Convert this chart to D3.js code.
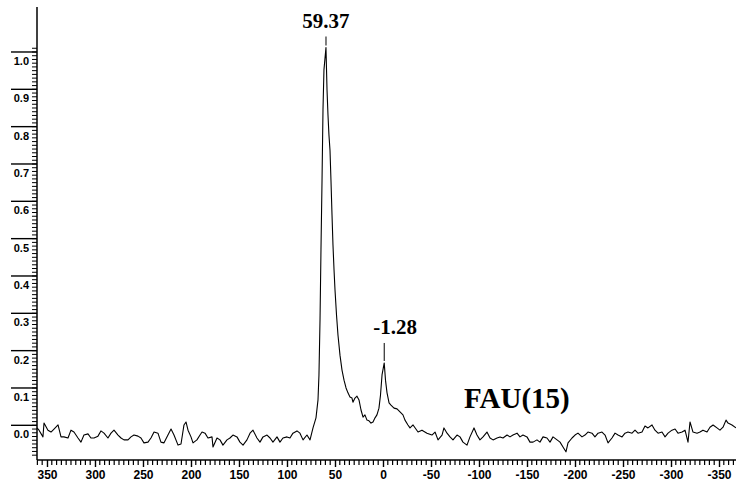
<!DOCTYPE html>
<html>
<head>
<meta charset="utf-8">
<script src="https://cdn.jsdelivr.net/npm/d3@7"></script>
<style>
    html, body { margin: 0; padding: 0; background: #ffffff; }
    svg { display: block; }
</style>
</head>
<body>
<div id="chart"></div>
<script>
// Chemical shift (ppm) from left to right.
var shifts = [
    360.4, 358.3, 354.2, 353.1, 349.0, 345.8, 342.7, 338.5, 335.4, 332.3,
    328.1, 325.0, 321.9, 317.7, 314.6, 311.5, 307.3, 304.2, 301.0, 296.9,
    293.8, 290.6, 286.5, 283.3, 280.2, 276.0, 272.9, 269.8, 265.6, 262.5,
    259.4, 255.2, 252.1, 249.0, 244.8, 241.7, 238.5, 234.4, 231.3, 228.1,
    224.0, 220.8, 217.7, 213.5, 210.4, 207.3, 205.2, 203.1, 200.0, 197.9,
    193.8, 190.6, 188.5, 185.4, 182.3, 178.1, 177.1, 172.9, 169.8, 166.7,
    162.5, 159.4, 156.3, 152.1, 149.0, 145.8, 141.7, 138.5, 135.4, 131.3,
    128.1, 125.0, 120.8, 117.7, 114.6, 110.4, 107.3, 104.2, 100.0, 96.9,
    93.8, 89.6, 86.5, 83.3, 79.2, 76.0, 72.9, 69.8, 67.7, 66.7,
    65.6, 64.6, 63.5, 62.5, 61.5, 59.4, 58.3, 57.3, 56.3, 55.2,
    54.2, 53.1, 52.1, 51.0, 50.0, 48.4, 46.9, 44.8, 42.7, 40.6,
    38.5, 36.5, 34.4, 32.3, 31.3, 29.2, 27.1, 25.0, 22.9, 20.8,
    18.8, 16.7, 14.6, 12.5, 10.4, 8.3, 6.3, 4.2, 2.6, 1.0,
    -1.28, -2.6, -4.2, -6.3, -8.3, -11.5, -14.6, -17.7, -20.8, -22.9,
    -26.0, -28.1, -31.3, -36.5, -40.6, -45.8, -51.0, -54.2, -57.3, -61.5,
    -63.5, -66.7, -69.8, -72.9, -77.1, -80.2, -83.3, -87.5, -90.6, -94.8,
    -97.9, -101.0, -104.2, -108.3, -111.5, -114.6, -118.8, -121.9, -125.0, -129.2,
    -132.3, -135.4, -139.6, -142.7, -145.8, -150.0, -153.1, -156.3, -160.4, -163.5,
    -166.7, -170.8, -174.0, -177.1, -181.3, -184.4, -187.5, -190.6, -192.7, -196.9,
    -200.0, -203.1, -207.3, -210.4, -213.5, -217.7, -220.8, -224.0, -228.1, -231.3,
    -234.4, -238.5, -241.7, -244.8, -249.0, -252.1, -255.2, -259.4, -262.5, -265.6,
    -269.8, -272.9, -276.0, -280.2, -283.3, -286.5, -290.6, -293.8, -296.9, -301.0,
    -304.2, -307.3, -311.5, -314.6, -317.7, -319.8, -322.9, -327.1, -330.2, -333.3,
    -337.5, -340.6, -343.8, -347.9, -351.0, -354.2, -357.3, -359.4, -363.5, -367.7
];

// Normalised intensity at each shift.
var intensities = [
    -0.007, -0.013, -0.031, 0.006, -0.013, -0.018, -0.010, 0.001, -0.031, -0.031,
    -0.034, -0.013, -0.018, -0.034, -0.045, -0.026, -0.023, -0.034, -0.034, -0.029,
    -0.015, -0.021, -0.034, -0.021, -0.013, -0.026, -0.034, -0.039, -0.039, -0.031,
    -0.026, -0.029, -0.034, -0.047, -0.045, -0.034, -0.018, -0.021, -0.045, -0.047,
    -0.026, -0.010, -0.026, -0.053, -0.050, 0.001, 0.009, -0.013, -0.031, -0.047,
    -0.039, -0.026, -0.018, -0.021, -0.034, -0.031, -0.058, -0.034, -0.039, -0.053,
    -0.039, -0.034, -0.026, -0.031, -0.045, -0.053, -0.039, -0.021, -0.013, -0.034,
    -0.045, -0.031, -0.026, -0.034, -0.045, -0.031, -0.045, -0.034, -0.031, -0.034,
    -0.021, -0.015, -0.021, -0.039, -0.026, -0.039, -0.007, 0.020, 0.068, 0.135,
    0.282, 0.470, 0.657, 0.845, 0.952, 1.012, 0.898, 0.831, 0.778, 0.737,
    0.657, 0.563, 0.483, 0.416, 0.363, 0.295, 0.242, 0.188, 0.148, 0.121,
    0.100, 0.087, 0.076, 0.073, 0.062, 0.073, 0.078, 0.068, 0.041, 0.022,
    0.028, 0.014, 0.012, 0.006, 0.009, 0.020, 0.028, 0.046, 0.081, 0.135,
    0.167, 0.121, 0.087, 0.060, 0.054, 0.046, 0.044, 0.036, 0.028, 0.014,
    0.001, -0.007, 0.001, -0.018, -0.013, -0.021, -0.026, -0.018, -0.039, -0.026,
    -0.007, -0.021, -0.031, -0.039, -0.026, -0.031, -0.045, -0.053, -0.031, -0.007,
    -0.026, -0.039, -0.031, -0.018, -0.034, -0.039, -0.034, -0.031, -0.034, -0.026,
    -0.031, -0.026, -0.021, -0.031, -0.026, -0.031, -0.045, -0.045, -0.039, -0.045,
    -0.031, -0.034, -0.045, -0.031, -0.039, -0.045, -0.058, -0.071, -0.047, -0.034,
    -0.026, -0.021, -0.031, -0.026, -0.018, -0.021, -0.031, -0.021, -0.018, -0.026,
    -0.047, -0.034, -0.021, -0.026, -0.031, -0.021, -0.018, -0.021, -0.013, -0.021,
    -0.018, -0.002, -0.007, 0.001, -0.013, -0.021, -0.018, -0.031, -0.021, -0.013,
    -0.010, -0.021, -0.018, -0.013, -0.045, 0.009, -0.018, -0.021, -0.018, -0.013,
    -0.018, -0.005, 0.001, -0.007, -0.013, -0.005, 0.014, 0.006, 0.001, -0.007
];

// Peak annotations.
var peakShifts = [59.37, -1.28];
var peakValues = [1.012, 0.167];
var peakLabels = ['59.37', '-1.28'];

var sampleName = 'FAU(15)';

var xTickValues = [350, 300, 250, 200, 150, 100, 50, 0, -50, -100, -150, -200, -250, -300, -350];
var yTickValues = [0.0, 0.1, 0.2, 0.3, 0.4, 0.5, 0.6, 0.7, 0.8, 0.9, 1.0];

var width = 736,
    height = 485,
    axisX = 37,
    axisY = 460;

var svg = d3.select( '#chart' )
    .append( 'svg' )
    .attr( 'width', width )
    .attr( 'height', height );

var x = d3.scaleLinear()
    .domain( [360.4, -367.7] )
    .range( [axisX, width] );

var y = d3.scaleLinear()
    .domain( [-0.0929, 1.1205] )
    .range( [axisY, 7] );

var spectrum = shifts.map( ( s, i ) => ( { shift: s, value: intensities[i] } ) );

// Minor ticks every 5 ppm and every 0.01.
var xMinor = d3.range( 360, -366, -5 ).filter( d => d % 50 !== 0 );
var yMinor = d3.range( -8, 102 ).map( d => d / 100 );

// X axis labels and major ticks.
var xAxisG = svg.append( 'g' )
    .attr( 'transform', 'translate(0,' + axisY + ')' );

xAxisG.call( d3.axisBottom( x )
        .tickValues( xTickValues )
        .tickFormat( d => String( d ) )
        .tickSize( 7 )
        .tickSizeOuter( 0 ) );

xAxisG.select( '.domain' ).remove();
xAxisG.selectAll( '.tick line' ).attr( 'stroke-width', 1.4 );
xAxisG.selectAll( '.tick text' )
    .attr( 'y', 10 )
    .attr( 'font-family', 'Liberation Sans, Arial, sans-serif' )
    .attr( 'font-weight', 'bold' )
    .attr( 'font-size', 12 )
    .attr( 'fill', '#000' );

// Y axis: long rule over each label.
svg.append( 'g' )
    .attr( 'class', 'y-major' )
    .selectAll( 'line' )
    .data( yTickValues )
    .join( 'line' )
    .attr( 'x1', 11 )
    .attr( 'x2', axisX )
    .attr( 'y1', d => y( d ) )
    .attr( 'y2', d => y( d ) )
    .attr( 'stroke', '#000' )
    .attr( 'stroke-width', 1.4 );

svg.append( 'g' )
    .attr( 'class', 'y-labels' )
    .selectAll( 'text' )
    .data( yTickValues )
    .join( 'text' )
    .attr( 'x', 29 )
    .attr( 'y', d => y( d ) + 13 )
    .attr( 'text-anchor', 'end' )
    .attr( 'font-family', 'Liberation Sans, Arial, sans-serif' )
    .attr( 'font-weight', 'bold' )
    .attr( 'font-size', 11 )
    .text( d => d.toFixed( 1 ) );

// Spectrum.
var trace = d3.line()
    .x( d => x( d.shift ) )
    .y( d => y( d.value ) );

svg.append( 'path' )
    .datum( spectrum )
    .attr( 'd', trace )
    .attr( 'fill', 'none' )
    .attr( 'stroke', '#000' )
    .attr( 'stroke-width', 1.1 )
    .attr( 'stroke-linejoin', 'round' );

// Peak labels with a short marker above each peak.
var labelDy = [15, 24];
var labelDx = [0, 11];

peakShifts.forEach( function ( p, i ) {
    var px = x( p ),
        py = y( peakValues[i] );
    svg.append( 'line' )
        .attr( 'x1', px )
        .attr( 'x2', px )
        .attr( 'y1', py - 2 )
        .attr( 'y2', py - labelDy[i] + 4 )
        .attr( 'stroke', '#000' );
    svg.append( 'text' )
        .attr( 'x', px + labelDx[i] )
        .attr( 'y', py - labelDy[i] - 5 )
        .attr( 'text-anchor', 'middle' )
        .attr( 'font-family', 'Liberation Serif, Times New Roman, serif' )
        .attr( 'font-weight', 'bold' )
        .attr( 'font-size', 21 )
        .text( peakLabels[i] );
} );

svg.append( 'text' )
    .attr( 'x', 464 )
    .attr( 'y', 408 )
    .attr( 'font-family', 'Liberation Serif, Times New Roman, serif' )
    .attr( 'font-weight', 'bold' )
    .attr( 'font-size', 29 )
    .text( sampleName );

// Minor ticks, then the two axis lines on top.
svg.append( 'g' )
    .attr( 'class', 'x-minor' )
    .selectAll( 'line' )
    .data( xMinor )
    .join( 'line' )
    .attr( 'x1', d => x( d ) )
    .attr( 'x2', d => x( d ) )
    .attr( 'y1', axisY )
    .attr( 'y2', axisY + 5 )
    .attr( 'stroke', '#000' )
    .attr( 'stroke-width', 1.2 );

svg.append( 'g' )
    .attr( 'class', 'y-minor' )
    .selectAll( 'line' )
    .data( yMinor )
    .join( 'line' )
    .attr( 'x1', axisX - 5 )
    .attr( 'x2', axisX )
    .attr( 'y1', d => y( d ) )
    .attr( 'y2', d => y( d ) )
    .attr( 'stroke', '#000' )
    .attr( 'stroke-width', 1 );

svg.append( 'line' )
    .attr( 'x1', axisX )
    .attr( 'x2', width )
    .attr( 'y1', axisY )
    .attr( 'y2', axisY )
    .attr( 'stroke', '#000' )
    .attr( 'stroke-width', 1.4 );

svg.append( 'line' )
    .attr( 'x1', axisX )
    .attr( 'x2', axisX )
    .attr( 'y1', 7 )
    .attr( 'y2', axisY )
    .attr( 'stroke', '#000' )
    .attr( 'stroke-width', 1.5 );
</script>
</body>
</html>
